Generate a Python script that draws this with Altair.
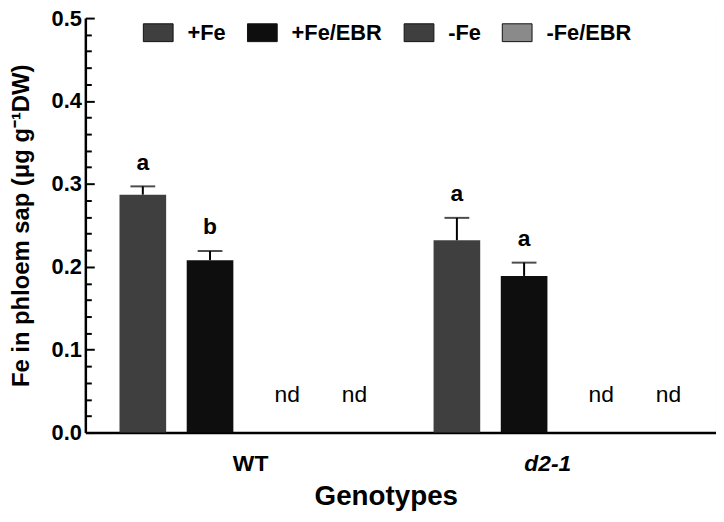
import altair as alt
import pandas as pd

genotypes = ["WT", "d2-1"]
treatments = ["+Fe", "+Fe/EBR", "-Fe", "-Fe/EBR"]
colors = ["#3f3f3f", "#0e0e0e", "#3f3f3f", "#8a8a8a"]

means = {"WT": [0.287, 0.208, None, None], "d2-1": [0.232, 0.189, None, None]}
errs = {"WT": [0.010, 0.011, None, None], "d2-1": [0.027, 0.016, None, None]}
letters = {"WT": ["a", "b", "", ""], "d2-1": ["a", "a", "", ""]}
notes = {"WT": ["", "", "nd", "nd"], "d2-1": ["", "", "nd", "nd"]}
major_ticks = [0.0, 0.1, 0.2, 0.3, 0.4, 0.5]
minor_ticks = [0.02, 0.04, 0.06, 0.08, 0.12, 0.14, 0.16, 0.18, 0.22, 0.24, 0.26, 0.28,
               0.32, 0.34, 0.36, 0.38, 0.42, 0.44, 0.46, 0.48]

rows = []
for g in genotypes:
    for i, t in enumerate(treatments):
        m = means[g][i]
        e = errs[g][i]
        rows.append({
            "genotype": g,
            "treatment": t,
            "mean": m,
            "upper": (m + e) if m is not None else None,
            "letter": letters[g][i],
            "note": notes[g][i],
        })
df = pd.DataFrame(rows)

FONT = "Liberation Sans"

xenc = alt.X(
    "genotype:N",
    scale=alt.Scale(domain=genotypes, paddingInner=0.144, paddingOuter=0.076),
    axis=alt.Axis(
        title="Genotypes", titleFontSize=28, titleFont=FONT, titleFontWeight="bold",
        titleColor="black", titlePadding=8, titleX=303,
        labelFont=FONT, labelFontSize=23, labelFontWeight="bold", labelColor="black",
        labelFontStyle={"condition": {"test": "datum.value == 'd2-1'", "value": "italic"}, "value": "normal"},
        labelOffset={"condition": {"test": "datum.value == 'WT'", "value": 7}, "value": -10},
        labelAngle=0, labelPadding=20, ticks=False, tickSize=0,
        domainColor="black", domainWidth=2.5,
    ),
)
xoff = alt.XOffset(
    "treatment:N",
    scale=alt.Scale(domain=treatments, paddingInner=0.306, paddingOuter=0.153),
)
yscale = alt.Scale(domain=[0, 0.5], nice=False, zero=True)

base = alt.Chart(df).encode(x=xenc, xOffset=xoff)
valid = base.transform_filter("isValid(datum.mean)")

bars = valid.mark_bar().encode(
    y=alt.Y(
        "mean:Q",
        scale=yscale,
        axis=alt.Axis(
            title="Fe in phloem sap (μg g⁻¹DW)", titleFont=FONT, titleFontSize=24,
            titleFontWeight="bold", titleColor="black", titlePadding=18,
            values=major_ticks, format=".1f", labelOverlap=False,
            labelFont=FONT, labelFontSize=22, labelFontWeight="bold", labelColor="black",
            labelPadding=13, grid=False,
            tickSize=alt.ExprRef(expr="-9"),
            tickColor="black", tickWidth=2, domainColor="black", domainWidth=2.5,
        ),
    ),
    color=alt.Color(
        "treatment:N",
        scale=alt.Scale(domain=treatments, range=colors),
        legend=alt.Legend(
            title=None, orient="none", legendX=58, legendY=-1, direction="horizontal",
            columns=4, symbolType="M-1,-0.6H1V0.6H-1Z", symbolSize=900,
            symbolStrokeColor="#111111", symbolStrokeWidth=1, symbolOpacity=1,
            labelFont=FONT, labelFontSize=22, labelFontWeight="bold", labelColor="black",
            labelOffset=14, columnPadding=19, labelLimit=200,
        ),
    ),
)

err = valid.mark_rule(color="black", strokeWidth=2).encode(
    y=alt.Y(
        "mean:Q",
        scale=yscale,
        axis=alt.Axis(
            title=None, values=minor_ticks, labels=False, domain=False, grid=False,
            orient="left", tickSize=alt.ExprRef(expr="-6"), tickColor="black", tickWidth=2,
        ),
    ),
    y2="upper:Q",
)
caps = valid.mark_tick(color="black", thickness=2, size=25).encode(y="upper:Q")
lets = valid.mark_text(font=FONT, fontSize=23, fontWeight="bold", color="black", dy=-24).encode(
    y="upper:Q", text="letter:N"
)
nd = base.transform_filter("!isValid(datum.mean)").mark_text(
    font=FONT, fontSize=23, color="black", dx=10, dy=-38
).encode(y=alt.datum(0), text="note:N")

chart = (
    alt.layer(bars, err, caps, lets, nd)
    .resolve_axis(y="independent")
    .properties(
        width=636, height=418,
        autosize=alt.AutoSizeParams(type="none"),
        padding={"left": 78, "top": 8, "right": 0, "bottom": 86},
    )
    .configure_view(stroke=None)
)

chart.save("out.html", embed_options={"renderer": "svg", "actions": False})
